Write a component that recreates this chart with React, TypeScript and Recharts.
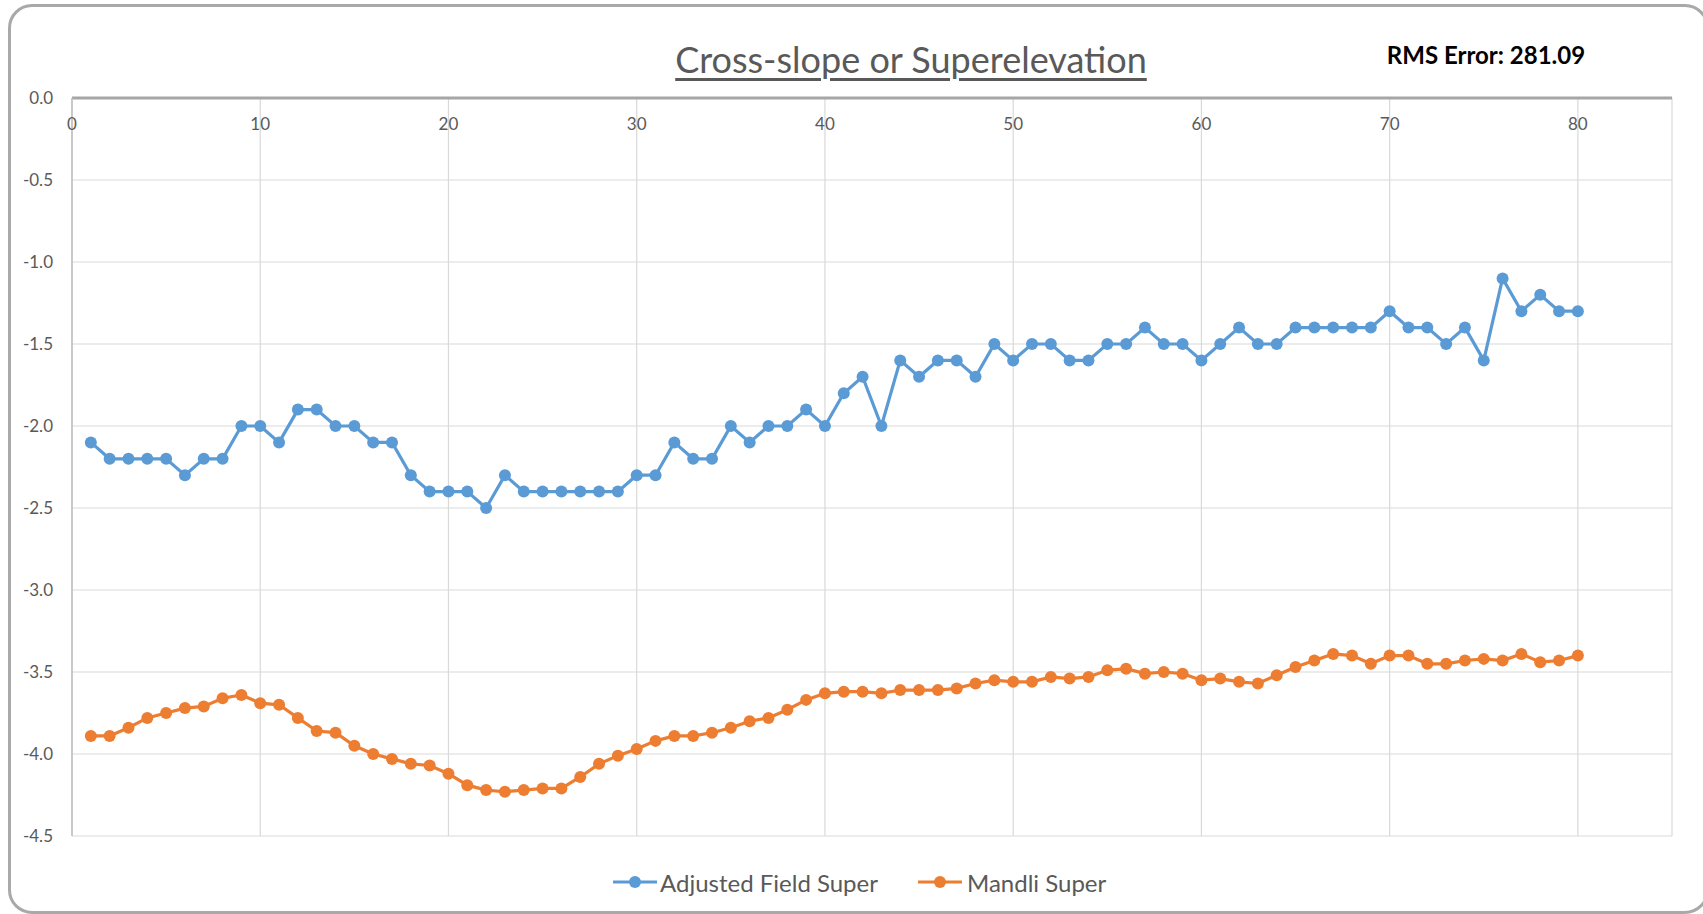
import { LineChart, Line, XAxis, YAxis, CartesianGrid } from 'recharts'

// station numbers along the road
const STATIONS = [
  1, 2, 3, 4, 5, 6, 7, 8, 9, 10, 11, 12, 13, 14, 15, 16, 17, 18, 19, 20,
  21, 22, 23, 24, 25, 26, 27, 28, 29, 30, 31, 32, 33, 34, 35, 36, 37, 38, 39, 40,
  41, 42, 43, 44, 45, 46, 47, 48, 49, 50, 51, 52, 53, 54, 55, 56, 57, 58, 59, 60,
  61, 62, 63, 64, 65, 66, 67, 68, 69, 70, 71, 72, 73, 74, 75, 76, 77, 78, 79, 80,
]

const FIELD_SUPER = [
  -2.1, -2.2, -2.2, -2.2, -2.2, -2.3, -2.2, -2.2, -2.0, -2.0,
  -2.1, -1.9, -1.9, -2.0, -2.0, -2.1, -2.1, -2.3, -2.4, -2.4,
  -2.4, -2.5, -2.3, -2.4, -2.4, -2.4, -2.4, -2.4, -2.4, -2.3,
  -2.3, -2.1, -2.2, -2.2, -2.0, -2.1, -2.0, -2.0, -1.9, -2.0,
  -1.8, -1.7, -2.0, -1.6, -1.7, -1.6, -1.6, -1.7, -1.5, -1.6,
  -1.5, -1.5, -1.6, -1.6, -1.5, -1.5, -1.4, -1.5, -1.5, -1.6,
  -1.5, -1.4, -1.5, -1.5, -1.4, -1.4, -1.4, -1.4, -1.4, -1.3,
  -1.4, -1.4, -1.5, -1.4, -1.6, -1.1, -1.3, -1.2, -1.3, -1.3,
]

const MANDLI_SUPER = [
  -3.89, -3.89, -3.84, -3.78, -3.75, -3.72, -3.71, -3.66, -3.64, -3.69,
  -3.70, -3.78, -3.86, -3.87, -3.95, -4.00, -4.03, -4.06, -4.07, -4.12,
  -4.19, -4.22, -4.23, -4.22, -4.21, -4.21, -4.14, -4.06, -4.01, -3.97,
  -3.92, -3.89, -3.89, -3.87, -3.84, -3.80, -3.78, -3.73, -3.67, -3.63,
  -3.62, -3.62, -3.63, -3.61, -3.61, -3.61, -3.60, -3.57, -3.55, -3.56,
  -3.56, -3.53, -3.54, -3.53, -3.49, -3.48, -3.51, -3.50, -3.51, -3.55,
  -3.54, -3.56, -3.57, -3.52, -3.47, -3.43, -3.39, -3.40, -3.45, -3.40,
  -3.40, -3.45, -3.45, -3.43, -3.42, -3.43, -3.39, -3.44, -3.43, -3.40,
]

const X_TICKS = [0, 10, 20, 30, 40, 50, 60, 70, 80]
const Y_TICKS = [0, -0.5, -1, -1.5, -2, -2.5, -3, -3.5, -4, -4.5]

const BLUE = '#5b9bd5'
const ORANGE = '#ed7d31'
const TEXT = '#595959'
const FONT = 'Lato, "Open Sans", sans-serif'

const data = STATIONS.map((x, i) => ({ x, field: FIELD_SUPER[i], mandli: MANDLI_SUPER[i] }))

function LegendMark({ color }: { color: string }) {
  return (
    <svg width={44} height={14} style={{ display: 'block' }}>
      <line x1={0} y1={7} x2={44} y2={7} stroke={color} strokeWidth={3} />
      <circle cx={22} cy={7} r={6} fill={color} />
    </svg>
  )
}

export default function App() {
  return (
    <div style={{ position: 'absolute', left: 0, top: 0, width: 1703, height: 914, background: '#fff', fontFamily: FONT, overflow: 'hidden' }}>
      {/* rounded chart frame, its right edge runs just off the picture */}
      <div style={{ position: 'absolute', left: 8, top: 4, width: 1701, height: 910, border: '3px solid #a9a9a9', borderRadius: 24, boxSizing: 'border-box' }} />

      <LineChart
        width={1703}
        height={914}
        data={data}
        margin={{ top: 98, right: 31, left: 0, bottom: 78 }}
        style={{ position: 'absolute', left: 0, top: 0 }}
      >
        <CartesianGrid stroke="#d9d9d9" strokeWidth={1.2} />
        <XAxis
          dataKey="x"
          type="number"
          orientation="top"
          mirror
          height={1}
          domain={[0, 85]}
          ticks={X_TICKS}
          interval={0}
          axisLine={{ stroke: '#a6a6a6', strokeWidth: 3 }}
          tickLine={false}
          tickSize={0}
          tickMargin={20}
          tick={{ fill: TEXT, fontSize: 17, fontFamily: FONT }}
        />
        <YAxis
          type="number"
          domain={[-4.5, 0]}
          ticks={Y_TICKS}
          interval={0}
          width={72}
          axisLine={{ stroke: '#bfbfbf', strokeWidth: 1.5 }}
          tickLine={false}
          tickSize={0}
          tickMargin={19}
          tickFormatter={(v: number) => v.toFixed(1)}
          tick={{ fill: TEXT, fontSize: 17, fontFamily: FONT }}
        />
        <Line
          type="linear"
          dataKey="field"
          name="Adjusted Field Super"
          stroke={BLUE}
          strokeWidth={3.2}
          dot={{ r: 6, fill: BLUE, stroke: BLUE, strokeWidth: 0 }}
          isAnimationActive={false}
        />
        <Line
          type="linear"
          dataKey="mandli"
          name="Mandli Super"
          stroke={ORANGE}
          strokeWidth={3.2}
          dot={{ r: 6, fill: ORANGE, stroke: ORANGE, strokeWidth: 0 }}
          isAnimationActive={false}
        />
      </LineChart>

      {/* title */}
      <div style={{ position: 'absolute', left: 511, top: 39, width: 800, textAlign: 'center', fontSize: 36, lineHeight: '40px', color: TEXT, textDecoration: 'underline', textDecorationThickness: 3, textUnderlineOffset: 5 }}>
        Cross-slope or Superelevation
      </div>
      <div style={{ position: 'absolute', left: 1336, top: 41, width: 300, textAlign: 'center', fontSize: 24, lineHeight: '28px', fontWeight: 700, color: '#000' }}>
        RMS Error: 281.09
      </div>

      {/* legend */}
      <div style={{ position: 'absolute', left: 613, top: 867, height: 30, display: 'flex', alignItems: 'center', fontSize: 24, color: TEXT }}>
        <LegendMark color={BLUE} />
        <span style={{ marginLeft: 3 }}>Adjusted Field Super</span>
      </div>
      <div style={{ position: 'absolute', left: 918, top: 867, height: 30, display: 'flex', alignItems: 'center', fontSize: 24, color: TEXT }}>
        <LegendMark color={ORANGE} />
        <span style={{ marginLeft: 5 }}>Mandli Super</span>
      </div>
    </div>
  )
}
